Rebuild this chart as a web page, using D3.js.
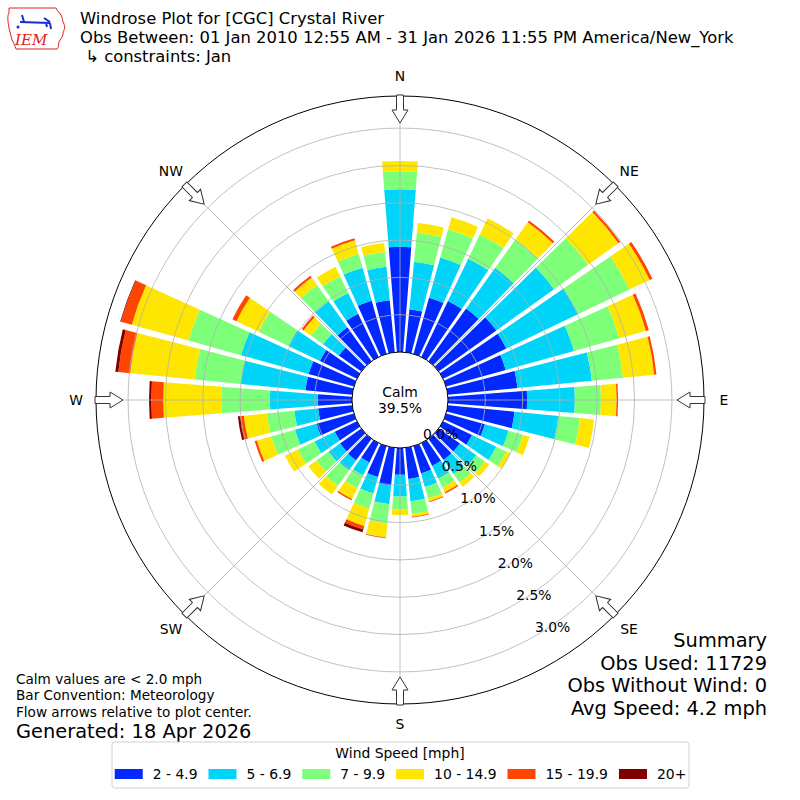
<!DOCTYPE html>
<html>
<head>
<meta charset="utf-8">
<title>Windrose Plot</title>
<script src="https://cdn.jsdelivr.net/npm/d3@7/dist/d3.min.js"></script>
<style>
  body { margin: 0; background: #fff; }
  text { font-family: "DejaVu Sans", sans-serif; fill: #000; }
</style>
</head>
<body>
<script>
  // wind direction bins (degrees, meteorological "from")
  const directions = d3.range(0, 360, 10);

  const speedBins = ["2 - 4.9", "5 - 6.9", "7 - 9.9", "10 - 14.9", "15 - 19.9", "20+"];
  const binColors = ["#0028ff", "#00d4f8", "#7dff7a", "#ffe600", "#ff4500", "#800000"];

  // frequency (%) per direction, one array per speed bin
  const bin1 = [1.41, 0.58, 0.78, 0.83, 0.87, 0.95, 0.94, 0.83, 0.94, 1.06, 0.90, 0.54,
                0.43, 0.35, 0.35, 0.34, 0.38, 0.42, 0.36, 0.51, 0.43, 0.29, 0.36, 0.35,
                0.33, 0.52, 0.46, 0.46, 0.63, 0.63, 0.55, 0.37, 0.56, 0.64, 0.74, 0.70];
  const bin2 = [0.77, 0.64, 0.56, 0.63, 0.67, 0.95, 1.07, 0.95, 1.00, 0.64, 0.59, 0.33,
                0.36, 0.27, 0.23, 0.19, 0.19, 0.30, 0.29, 0.25, 0.23, 0.19, 0.16, 0.19,
                0.30, 0.30, 0.32, 0.64, 0.87, 0.94, 0.47, 0.26, 0.43, 0.31, 0.46, 0.45];
  const bin3 = [0.24, 0.39, 0.39, 0.36, 0.47, 0.56, 0.76, 0.63, 0.42, 0.35, 0.29, 0.20,
                0.15, 0.14, 0.14, 0.13, 0.16, 0.17, 0.17, 0.26, 0.21, 0.19, 0.26, 0.20,
                0.25, 0.33, 0.37, 0.65, 0.62, 0.73, 0.44, 0.20, 0.27, 0.25, 0.19, 0.20];
  const bin4 = [0.14, 0.13, 0.17, 0.24, 0.28, 0.50, 0.30, 0.37, 0.42, 0.21, 0.19, 0.09,
                0.06, 0.07, 0.07, 0.07, 0.04, 0.04, 0.08, 0.19, 0.24, 0.16, 0.14, 0.13,
                0.19, 0.20, 0.31, 0.78, 0.87, 0.79, 0.33, 0.12, 0.12, 0.14, 0.19, 0.12];
  const bin5 = [0, 0, 0, 0, 0.03, 0.03, 0.04, 0.04, 0.03, 0.02, 0, 0,
                0, 0, 0, 0.02, 0.01, 0.01, 0, 0.01, 0.05, 0.02, 0, 0,
                0, 0.03, 0.05, 0.16, 0.16, 0.15, 0.06, 0.03, 0.03, 0, 0.03, 0];
  const bin6 = [0, 0, 0, 0, 0, 0, 0, 0, 0, 0, 0, 0,
                0, 0, 0, 0, 0, 0, 0, 0, 0.04, 0, 0, 0,
                0, 0, 0.03, 0.03, 0.04, 0.01, 0, 0, 0, 0, 0, 0];

  const calmPct = 39.5;
  const ringTicks = [0.0, 0.5, 1.0, 1.5, 2.0, 2.5, 3.0];
  const compass = [["N", 0], ["NE", 45], ["E", 90], ["SE", 135], ["S", 180], ["SW", 225], ["W", 270], ["NW", 315]];

  const titleLines = ["Windrose Plot for [CGC] Crystal River",
                      "Obs Between: 01 Jan 2010 12:55 AM - 31 Jan 2026 11:55 PM America/New_York",
                      " \u21b3 constraints: Jan"];
  const noteLines = ["Calm values are < 2.0 mph", "Bar Convention: Meteorology", "Flow arrows relative to plot center."];
  const summaryLines = ["Summary", "Obs Used: 11729", "Obs Without Wind: 0", "Avg Speed: 4.2 mph"];

  const width = 800, height = 800;
  const cx = 400, cy = 400;
  const rCalm = 48, rOuter = 304;
  const rad = Math.PI / 180;

  const svg = d3.select("body").append("svg")
    .attr("width", width)
    .attr("height", height);

  // radius scale: 0% sits on the calm circle
  const r = d3.scaleLinear().domain([0, 3.43]).range([rCalm, rOuter]);

  const bins = [bin1, bin2, bin3, bin4, bin5, bin6];
  const keys = speedBins.map((d, i) => "b" + i);
  const rows = directions.map((dir, i) => {
    const row = { dir: dir };
    keys.forEach((k, j) => row[k] = bins[j][i]);
    return row;
  });
  const series = d3.stack().keys(keys)(rows);

  const plot = svg.append("g").attr("transform", `translate(${cx},${cy})`);

  // outer frame
  plot.append("circle").attr("r", rOuter)
    .attr("fill", "none").attr("stroke", "#000").attr("stroke-width", 1);

  // bars
  const half = 4.45 * rad;
  const arc = d3.arc()
    .innerRadius(d => r(d[0]))
    .outerRadius(d => r(d[1]))
    .startAngle(d => d.data.dir * rad - half)
    .endAngle(d => d.data.dir * rad + half)
    .padAngle(0.012)
    .padRadius(100);

  plot.selectAll("g.series")
    .data(series)
    .enter().append("g")
    .attr("fill", (d, i) => binColors[i])
    .selectAll("path")
    .data(d => d.filter(s => s[1] - s[0] > 0))
    .enter().append("path")
    .attr("d", arc);

  // grid on top of bars
  const grid = plot.append("g").attr("stroke", "#b0b0b0").attr("stroke-width", 0.8).attr("fill", "none");
  grid.selectAll("circle")
    .data(ringTicks.filter(t => t > 0))
    .enter().append("circle")
    .attr("r", d => r(d));
  grid.selectAll("line")
    .data(compass)
    .enter().append("line")
    .attr("x1", d => rCalm * Math.sin(d[1] * rad))
    .attr("y1", d => -rCalm * Math.cos(d[1] * rad))
    .attr("x2", d => rOuter * Math.sin(d[1] * rad))
    .attr("y2", d => -rOuter * Math.cos(d[1] * rad));

  // calm circle
  plot.append("circle").attr("r", rCalm)
    .attr("fill", "#fff").attr("stroke", "#000").attr("stroke-width", 1);
  plot.append("text").attr("text-anchor", "middle").attr("y", -3)
    .style("font-size", "13.9px").text("Calm");
  plot.append("text").attr("text-anchor", "middle").attr("y", 13)
    .style("font-size", "13.9px").text(calmPct.toFixed(1) + "%");

  // ring labels along 150 degrees
  const labAng = 150 * rad;
  plot.selectAll("text.ring")
    .data(ringTicks)
    .enter().append("text")
    .attr("class", "ring")
    .attr("x", d => r(d) * Math.sin(labAng) - 1)
    .attr("y", d => -r(d) * Math.cos(labAng) - 3)
    .style("font-size", "13.9px")
    .text(d => d.toFixed(1) + "%");

  // flow arrows at the rim, pointing inward
  const arrowPts = [[-3.5, -305], [3.5, -305], [3.5, -290], [8, -290], [0, -277], [-8, -290], [-3.5, -290]];
  plot.selectAll("path.arrow")
    .data(compass)
    .enter().append("path")
    .attr("class", "arrow")
    .attr("d", "M" + arrowPts.map(p => p.join(",")).join("L") + "Z")
    .attr("transform", d => `rotate(${d[1]})`)
    .attr("fill", "#fff").attr("stroke", "#333").attr("stroke-width", 1);

  // compass labels
  plot.selectAll("text.dir")
    .data(compass)
    .enter().append("text")
    .attr("class", "dir")
    .attr("x", d => 324 * Math.sin(d[1] * rad))
    .attr("y", d => -324 * Math.cos(d[1] * rad))
    .attr("text-anchor", "middle")
    .attr("dominant-baseline", "central")
    .style("font-size", "13.9px")
    .text(d => d[0]);

  // title
  svg.selectAll("text.title")
    .data(titleLines)
    .enter().append("text")
    .attr("x", 80)
    .attr("y", (d, i) => 24 + i * 19.2)
    .style("font-size", "16.4px")
    .attr("xml:space", "preserve")
    .text(d => d);

  // IEM logo (rough sketch)
  const logo = svg.append("g").attr("transform", "translate(6,6)");
  logo.append("path")
    .attr("d", "M3,2 L50,2 C51,5 54,7 55,9 C57,12 56,15 58,18 C60,22 57,25 57,28 C57,31 54,33 53,36 C52,39 53,41 51,43 L10,43 C9,40 8,37 6,34 C5,30 4,26 3,22 C2,16 1,10 3,7 Z")
    .attr("fill", "none").attr("stroke", "#d22").attr("stroke-width", 1);
  logo.append("path")
    .attr("d", "M14,16 L44,17 M16,9 L18,16 M38,12 L44,16 M44,17 L45,23 M40,17 L41,21")
    .attr("fill", "none").attr("stroke", "#1a2ecc").attr("stroke-width", 2);
  logo.append("circle").attr("cx", 12).attr("cy", 21).attr("r", 1.5).attr("fill", "#1a2ecc");
  logo.append("text")
    .attr("x", 9).attr("y", 39)
    .style("font-family", "'DejaVu Serif', 'Liberation Serif', serif")
    .style("font-style", "italic")
    .style("font-size", "15px")
    .style("fill", "#d22")
    .text("IEM");

  // notes bottom left
  svg.selectAll("text.note")
    .data(noteLines)
    .enter().append("text")
    .attr("x", 16)
    .attr("y", (d, i) => 684 + i * 16.3)
    .style("font-size", "13.6px")
    .text(d => d);
  svg.append("text").attr("x", 16).attr("y", 738)
    .style("font-size", "19.4px")
    .text("Generated: 18 Apr 2026");

  // summary bottom right
  svg.selectAll("text.summary")
    .data(summaryLines)
    .enter().append("text")
    .attr("x", 767)
    .attr("y", (d, i) => 647 + i * 22.6)
    .attr("text-anchor", "end")
    .style("font-size", "19.4px")
    .text(d => d);

  // legend
  const legend = svg.append("g");
  legend.append("rect")
    .attr("x", 112).attr("y", 742).attr("width", 577).attr("height", 46).attr("rx", 3)
    .attr("fill", "#fff").attr("stroke", "#d0d0d0").attr("stroke-width", 1);
  legend.append("text")
    .attr("x", 400).attr("y", 758)
    .attr("text-anchor", "middle")
    .style("font-size", "13.9px")
    .text("Wind Speed [mph]");

  const items = legend.append("g");
  let xPos = 0;
  speedBins.forEach((label, i) => {
    const item = items.append("g").attr("transform", `translate(${xPos},0)`);
    item.append("rect").attr("x", 0).attr("y", 769).attr("width", 28).attr("height", 10)
      .attr("fill", binColors[i]);
    const t = item.append("text").attr("x", 38).attr("y", 779)
      .style("font-size", "13.9px").text(label);
    xPos += 38 + t.node().getComputedTextLength() + 11;
  });
  const total = xPos - 11;
  items.attr("transform", `translate(${400.5 - total / 2},0)`);
</script>
</body>
</html>
